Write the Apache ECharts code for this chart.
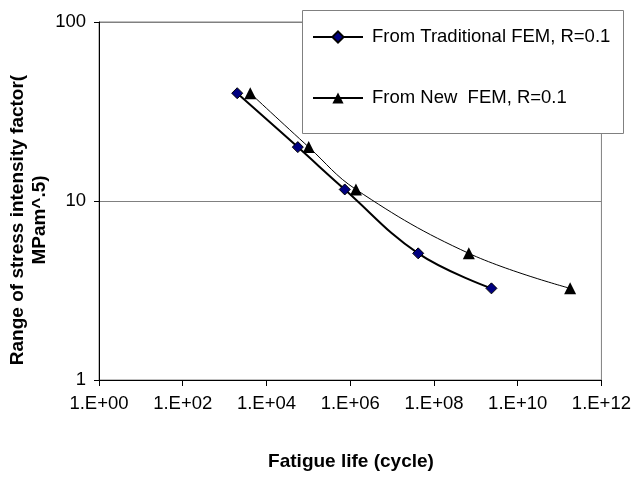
<!DOCTYPE html>
<html>
<head>
<meta charset="utf-8">
<script src="https://cdn.jsdelivr.net/npm/echarts@6/dist/echarts.min.js"></script>
<style>
  html, body { margin: 0; padding: 0; background: #fff; }
  #chart { width: 634px; height: 477px; }
</style>
</head>
<body>
<div id="chart"></div>
<script>
// Fatigue life (cycles) vs. stress intensity factor range, two FEM approaches
const traditionalLife = [2.0e3, 5.6e4, 7.4e5, 4.2e7, 2.36e9];
const traditionalK    = [40, 20, 11.6, 5.1, 3.25];
const newLife         = [4.1e3, 1.02e5, 1.37e6, 6.8e8, 1.79e11];
const newK            = [40, 20, 11.6, 5.1, 3.25];

const seriesNames = ['From Traditional FEM, R=0.1', 'From New  FEM, R=0.1'];
const xTitle = 'Fatigue life (cycle)';
const yTitle = 'Range of stress intensity factor(\nMPam^.5)';

const FONT = '"Liberation Sans", Arial, sans-serif';

function pairs(xs, ys) {
  return xs.map((x, i) => [x, ys[i]]);
}

function expLabel(v) {
  const e = Math.round(Math.log10(v));
  return '1.E+' + (e < 10 ? '0' + e : String(e));
}

const chart = echarts.init(document.getElementById('chart'), null, { renderer: 'canvas' });

chart.setOption({
  animation: false,
  backgroundColor: '#ffffff',
  grid: {
    left: 99, right: 31, top: 22, bottom: 97,
    show: true, borderColor: '#808080', borderWidth: 1, backgroundColor: '#ffffff'
  },
  xAxis: {
    type: 'log', logBase: 100, min: 1, max: 1e12,
    axisLine: { show: true, lineStyle: { color: '#000', width: 1 } },
    axisTick: { show: true, inside: false, length: 6, lineStyle: { color: '#000' } },
    axisLabel: { formatter: expLabel, color: '#000', fontSize: 18.5, fontFamily: FONT, margin: 14 },
    splitLine: { show: false },
    minorTick: { show: false }
  },
  yAxis: {
    type: 'log', logBase: 10, min: 1, max: 100,
    axisLine: { show: true, lineStyle: { color: '#000', width: 1 } },
    axisTick: { show: true, inside: false, length: 5, lineStyle: { color: '#000' } },
    axisLabel: { color: '#000', fontSize: 18.5, fontFamily: FONT, margin: 13 },
    splitLine: { show: true, lineStyle: { color: '#808080', width: 1 } },
    minorTick: { show: false }
  },
  legend: {
    orient: 'vertical',
    left: 302, top: 10,
    z: 20,
    padding: [17, 8, 25, 10],
    itemWidth: 50, itemHeight: 14, itemGap: 41,
    textStyle: { color: '#000', fontSize: 18.5, fontFamily: FONT, lineHeight: 20, padding: [0, 0, 0, 4] },
    data: seriesNames
  },
  graphic: [
    {
      type: 'rect', z: 10,
      shape: { x: 302.5, y: 10.5, width: 321, height: 123 },
      style: { fill: '#fff', stroke: '#808080', lineWidth: 1 }
    },
    {
      type: 'text', z: 10,
      x: 351, y: 462,
      style: { text: xTitle, font: 'bold 19px ' + FONT, fill: '#000', align: 'center', verticalAlign: 'middle' }
    },
    {
      type: 'text', z: 10,
      x: 29, y: 220, rotation: Math.PI / 2,
      style: { text: yTitle, font: 'bold 19px ' + FONT, fill: '#000', align: 'center', verticalAlign: 'middle', lineHeight: 22 }
    }
  ],
  series: [
    {
      name: seriesNames[0],
      type: 'line',
      data: pairs(traditionalLife, traditionalK),
      smooth: 0.4,
      symbol: 'diamond', symbolSize: 11,
      lineStyle: { color: '#000', width: 2 },
      itemStyle: { color: '#000080', borderColor: '#000', borderWidth: 1 },
      z: 3
    },
    {
      name: seriesNames[1],
      type: 'line',
      data: pairs(newLife, newK),
      smooth: 0.4,
      symbol: 'triangle', symbolSize: 12,
      lineStyle: { color: '#000', width: 1 },
      itemStyle: { color: '#000', borderColor: '#000', borderWidth: 0 },
      z: 2
    }
  ]
});
</script>
</body>
</html>
